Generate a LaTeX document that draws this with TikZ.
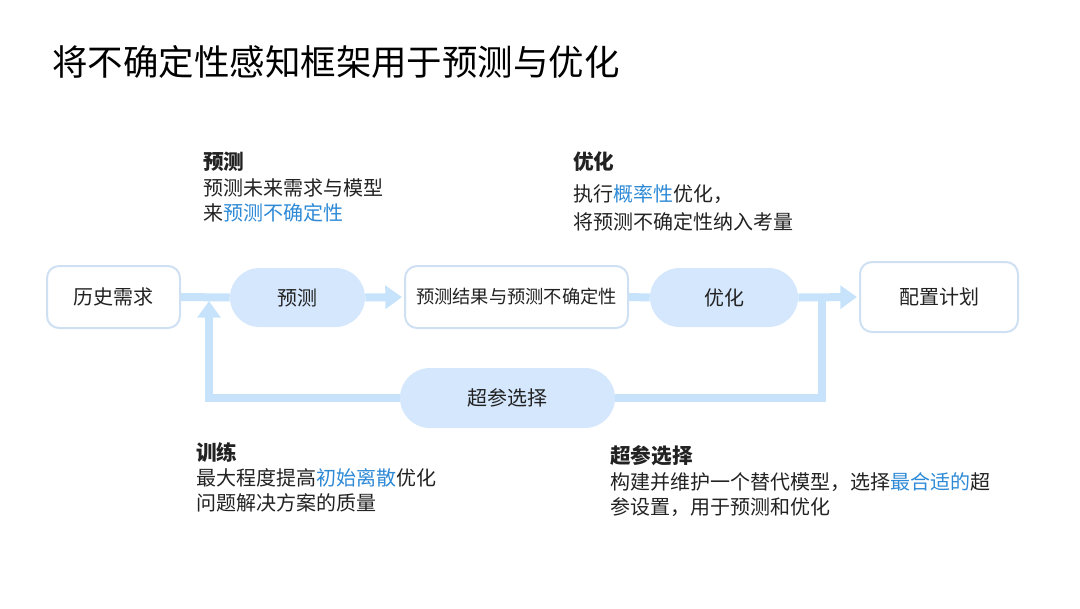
\documentclass[tikz,border=0pt]{standalone}
\usepackage{fontspec}
\setmainfont{Noto Sans CJK SC}
\usetikzlibrary{shapes.misc,arrows.meta}
\definecolor{lineblue}{HTML}{C6E3FB}
\definecolor{pillfill}{HTML}{D5E7FC}
\definecolor{boxborder}{HTML}{CFE0F3}
\definecolor{hiblue}{HTML}{2E8AD6}
\definecolor{txt}{HTML}{222222}
\tikzset{
  box/.style={draw=boxborder, line width=1.5pt, fill=white, rounded corners=9pt, text=txt, font=\fontsize{15pt}{18pt}\selectfont, inner sep=0pt},
  pill/.style={rounded rectangle, fill=pillfill, draw=none, text=txt, font=\fontsize{15pt}{18pt}\selectfont, inner sep=0pt},
  conn/.style={draw=lineblue, line width=6pt},
  arr/.style={conn, -{Triangle[length=12.5pt,width=17pt]}},
  desc/.style={anchor=west, inner sep=0pt, text=txt, font=\fontsize{15pt}{18pt}\selectfont},
  head/.style={desc, font=\fontsize{15.5pt}{18pt}\selectfont\bfseries},
}
\newcommand{\hl}[1]{\textcolor{hiblue}{#1}}
\begin{document}
\begin{tikzpicture}[x=0.75pt,y=-0.75pt]
\useasboundingbox (0,0) rectangle (1080,608);
% title
\node[anchor=west, inner sep=0pt, text=black, font=\fontsize{26.6pt}{30pt}\selectfont] (title) at (52,62) {将不确定性感知框架用于预测与优化};
% main nodes
\node[box, minimum width={133*0.75pt}, minimum height={62*0.75pt}] (hist) at (113.5,297) {历史需求};
\node[pill, minimum width={135*0.75pt}, minimum height={59*0.75pt}] (pred) at (297.5,297.5) {预测};
\node[box, minimum width={223*0.75pt}, minimum height={62*0.75pt}, font=\fontsize{13.7pt}{16pt}\selectfont] (res) at (516.5,297) {预测结果与预测不确定性};
\node[pill, minimum width={148*0.75pt}, minimum height={59*0.75pt}] (opt) at (724,297.5) {优化};
\node[box, minimum width={158*0.75pt}, minimum height={70*0.75pt}] (plan) at (939,297) {配置计划};
\node[pill, minimum width={215*0.75pt}, minimum height={60*0.75pt}] (hps) at (507.5,398) {超参选择};
\coordinate (jr) at (822,297);
\coordinate (jl) at (209,301);
% connectors
\draw[conn] (hist.east) -- (pred.west);
\draw[conn] (res.east) -- (opt.west);
\draw[conn] (hps.east) -| (jr);
\draw[arr, shorten >=1.5pt] (pred.east) -- (res.west);
\draw[arr, shorten >=1.5pt] (opt.east) -- (plan.west);
\draw[arr] (hps.west) -| (jl);
% descriptions
\node[head] (h1) at (203,162) {预测};
\node[desc] (d1a) at (203,188) {预测未来需求与模型};
\node[desc] (d1b) at (203,213) {来\hl{预测不确定性}};
\node[head] (h2) at (573,162) {优化};
\node[desc] (d2a) at (573,194) {执行\hl{概率性}优化，};
\node[desc] (d2b) at (573,222) {将预测不确定性纳入考量};
\node[head] (h3) at (196,452) {训练};
\node[desc] (d3a) at (196,478) {最大程度提高\hl{初始离散}优化};
\node[desc] (d3b) at (196,503) {问题解决方案的质量};
\node[head] (h4) at (610,456) {超参选择};
\node[desc] (d4a) at (610,482) {构建并维护一个替代模型，选择\hl{最合适的}超};
\node[desc] (d4b) at (610,507) {参设置，用于预测和优化};
\end{tikzpicture}
\end{document}
